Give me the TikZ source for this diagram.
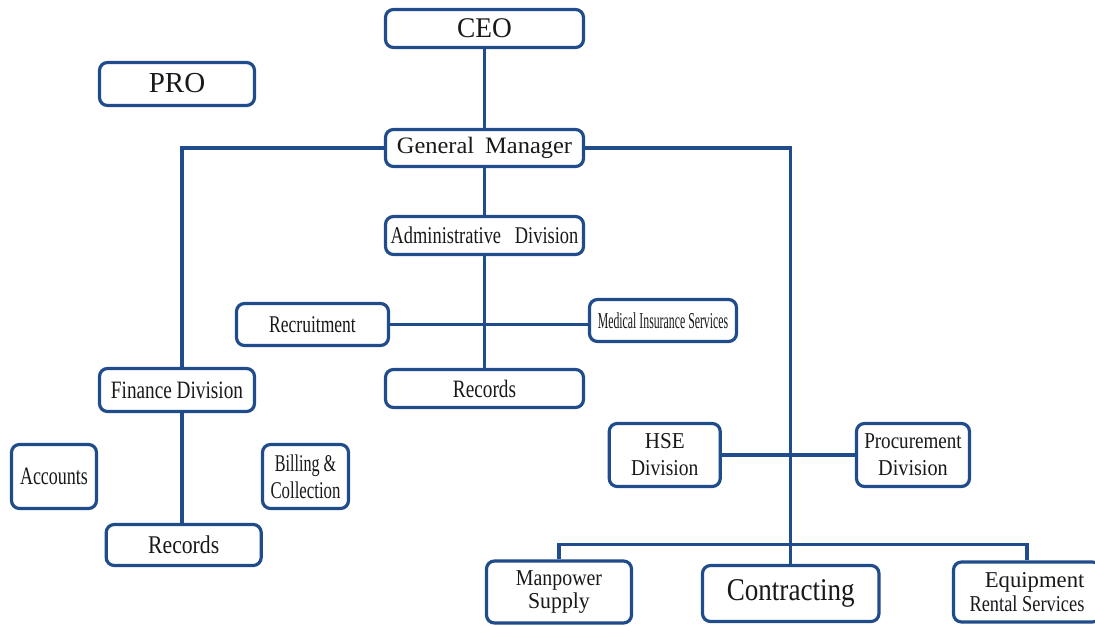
\documentclass[tikz,border=0pt]{standalone}
\usepackage{fontspec}
\setmainfont{Liberation Serif}
\usepackage{graphicx}
\definecolor{bl}{RGB}{33,76,140}
\definecolor{tx}{RGB}{25,25,25}
\newcommand{\hx}[2]{\scalebox{#1}[1]{#2}}
\tikzset{
  box/.style={draw=bl, line width=3.2pt, rounded corners=8pt, fill=white, inner sep=0pt, text=tx, align=center},
  conn/.style={draw=bl, line width=3.2pt},
}
\begin{document}
\begin{tikzpicture}[x=1pt,y=-1pt]
\useasboundingbox (0,0) rectangle (1095,626);
\node[box, minimum width=198pt, minimum height=38pt, font=\fontsize{28.5}{32}\selectfont] (ceo) at (484.5,28.5) {\raisebox{1.5pt}{\hx{0.96}{CEO}}};
\node[box, minimum width=155pt, minimum height=43pt, font=\fontsize{29}{33}\selectfont] (pro) at (177,84) {\raisebox{2pt}{\hx{1}{PRO}}};
\node[box, minimum width=198pt, minimum height=37pt, font=\fontsize{23.5}{27}\selectfont] (gm) at (484.5,148) {\hx{1.04}{General\hspace{0.45em}Manager}};
\node[box, minimum width=198pt, minimum height=38pt, font=\fontsize{24}{27}\selectfont] (adm) at (484.5,235.5) {\hx{0.767}{Administrative\hspace{0.75em}Division}};
\node[box, minimum width=152pt, minimum height=42pt, font=\fontsize{24}{27}\selectfont] (rec) at (312.5,324.5) {\hx{0.73}{Recruitment}};
\node[box, minimum width=147pt, minimum height=42pt, font=\fontsize{22.7}{26}\selectfont] (med) at (663,320.5) {\hx{0.52}{Medical Insurance Services}};
\node[box, minimum width=198pt, minimum height=38pt, font=\fontsize{25}{28}\selectfont] (rec2) at (484.5,388.5) {\hx{0.77}{Records}};
\node[box, minimum width=155pt, minimum height=43pt, font=\fontsize{25}{28}\selectfont] (fin) at (177,390) {\hx{0.77}{Finance Division}};
\node[box, minimum width=85pt, minimum height=64pt, font=\fontsize{25}{28}\selectfont] (acc) at (54,476.5) {\hx{0.72}{Accounts}};
\node[box, minimum width=86pt, minimum height=64pt, font=\fontsize{24}{27}\selectfont] (bil) at (305.5,476.5) {\hx{0.67}{Billing \&}\\\hx{0.70}{Collection}};
\node[box, minimum width=155pt, minimum height=41pt, font=\fontsize{25.5}{28}\selectfont] (frec) at (183.7,545) {\hx{0.85}{Records}};
\node[box, minimum width=111pt, minimum height=63pt, font=\fontsize{22.7}{27}\selectfont] (hse) at (664.75,455) {\hx{0.93}{HSE}\\\hx{0.86}{Division}};
\node[box, minimum width=113pt, minimum height=63pt, font=\fontsize{22.7}{27}\selectfont] (proc) at (913,455) {\hx{0.84}{Procurement}\\\hx{0.89}{Division}};
\node[box, minimum width=145pt, minimum height=62pt, font=\fontsize{22.7}{23}\selectfont] (man) at (559,592) {\hx{0.875}{Manpower}\\\hx{0.96}{Supply}};
\node[box, minimum width=176.5pt, minimum height=56pt, font=\fontsize{31.7}{35}\selectfont] (con) at (790.75,593.5) {\hx{0.855}{Contracting}};
\node[box, align=right, minimum width=147pt, minimum height=60pt, font=\fontsize{22.7}{24.5}\selectfont] (equ) at (1027,592) {\hx{1.0}{Equipment}\\\hx{0.81}{Rental Services}};
\draw[conn] (ceo.south) -- (gm.north);
\draw[conn] (gm.south) -- (adm.north);
\draw[conn] (adm.south) -- (rec2.north);
\draw[conn] (gm.west) -| ([xshift=5pt]fin.north);
\draw[conn] ([xshift=5pt]fin.south) -- ([xshift=5pt]fin.south |- frec.north);
\draw[conn] (gm.east) -| (con.north);
\draw[conn] (rec.east) -- (rec.east -| med.west);
\draw[conn] (hse.east) -- (proc.west);
\draw[conn] (man.north) -- ++(0,-15) -| (equ.north);
\end{tikzpicture}
\end{document}
